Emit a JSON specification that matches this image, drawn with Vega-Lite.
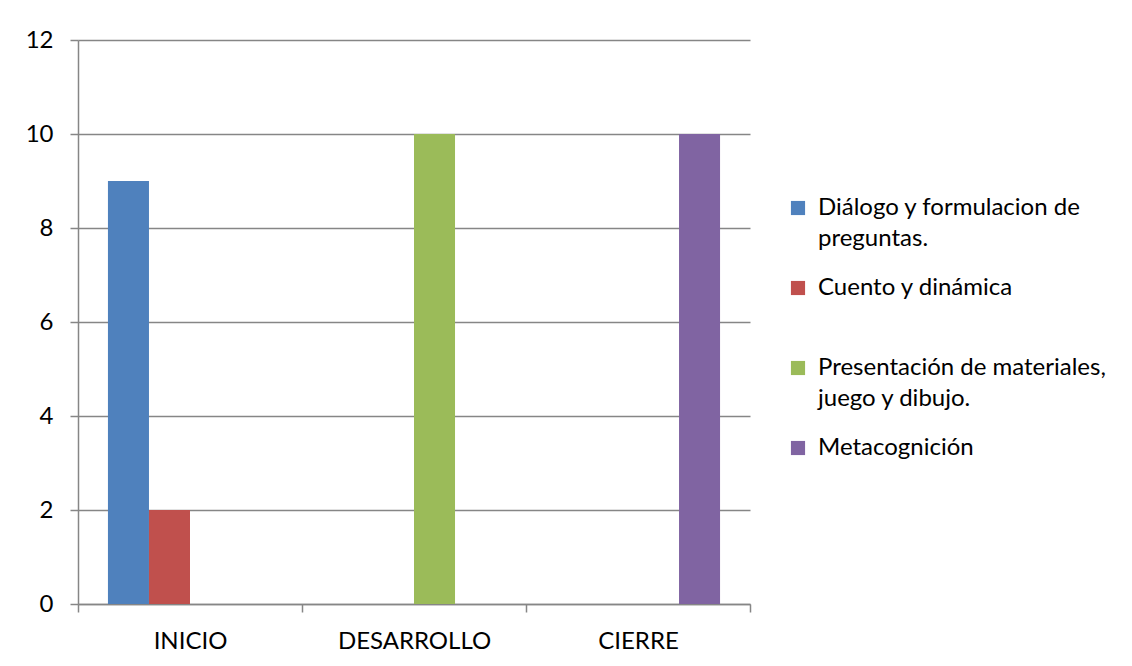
{
  "$schema": "https://vega.github.io/schema/vega-lite/v6.json",
  "autosize": {"type": "none"},
  "width": 672,
  "height": 564,
  "padding": {"left": 78, "top": 40, "right": 382, "bottom": 62},
  "background": "white",
  "data": {
    "values": [
      {"etapa": "INICIO", "serie": "Diálogo y formulacion de preguntas.", "valor": 9},
      {"etapa": "INICIO", "serie": "Cuento y dinámica", "valor": 2},
      {"etapa": "DESARROLLO", "serie": "Presentación de materiales, juego y dibujo.", "valor": 10},
      {"etapa": "CIERRE", "serie": "Metacognición", "valor": 10}
    ]
  },
  "mark": {"type": "bar"},
  "encoding": {
    "x": {
      "field": "etapa",
      "type": "nominal",
      "sort": ["INICIO", "DESARROLLO", "CIERRE"],
      "scale": {"paddingInner": 0, "paddingOuter": 0},
      "axis": {
        "title": null,
        "labelAngle": 0,
        "tickBand": "extent",
        "tickSize": 8,
        "tickColor": "#868686",
        "tickWidth": 1.5,
        "domainColor": "#868686",
        "domainWidth": 1.5,
        "labelPadding": 17,
        "labelFont": "Lato",
        "labelFontSize": 24,
        "labelColor": "#000000",
        "grid": false
      }
    },
    "xOffset": {
      "field": "serie",
      "type": "nominal",
      "scale": {
        "domain": ["Diálogo y formulacion de preguntas.", "Cuento y dinámica", "Presentación de materiales, juego y dibujo.", "Metacognición"],
        "paddingInner": 0,
        "paddingOuter": 0.73
      }
    },
    "y": {
      "field": "valor",
      "type": "quantitative",
      "scale": {"domain": [0, 12], "nice": false},
      "axis": {
        "title": null,
        "values": [0, 2, 4, 6, 8, 10, 12],
        "grid": true,
        "gridColor": "#868686",
        "gridWidth": 1.5,
        "tickSize": 8,
        "tickColor": "#868686",
        "tickWidth": 1.5,
        "domainColor": "#868686",
        "domainWidth": 1.5,
        "labelPadding": 17,
        "labelFont": "Lato",
        "labelFontSize": 24,
        "labelColor": "#000000"
      }
    },
    "color": {
      "field": "serie",
      "type": "nominal",
      "scale": {
        "domain": ["Diálogo y formulacion de preguntas.", "Cuento y dinámica", "Presentación de materiales, juego y dibujo.", "Metacognición"],
        "range": ["#4F81BD", "#C0504D", "#9BBB59", "#8064A2"]
      },
      "legend": {
        "title": null,
        "orient": "none",
        "legendX": 708,
        "legendY": 156,
        "symbolType": "square",
        "symbolSize": 200,
        "symbolStrokeWidth": 0,
        "labelFont": "Lato",
        "labelFontSize": 24,
        "labelColor": "#000000",
        "labelLimit": 400,
        "labelOffset": 8,
        "rowPadding": 25,
        "labelExpr": "datum.label == 'Diálogo y formulacion de preguntas.' ? ['Diálogo y formulacion de', 'preguntas.'] : datum.label == 'Presentación de materiales, juego y dibujo.' ? ['Presentación de materiales,', 'juego y dibujo.'] : [datum.label, ' ']"
      }
    }
  },
  "config": {
    "view": {"stroke": null},
    "style": {"guide-label": {"lineHeight": 31}}
  }
}
